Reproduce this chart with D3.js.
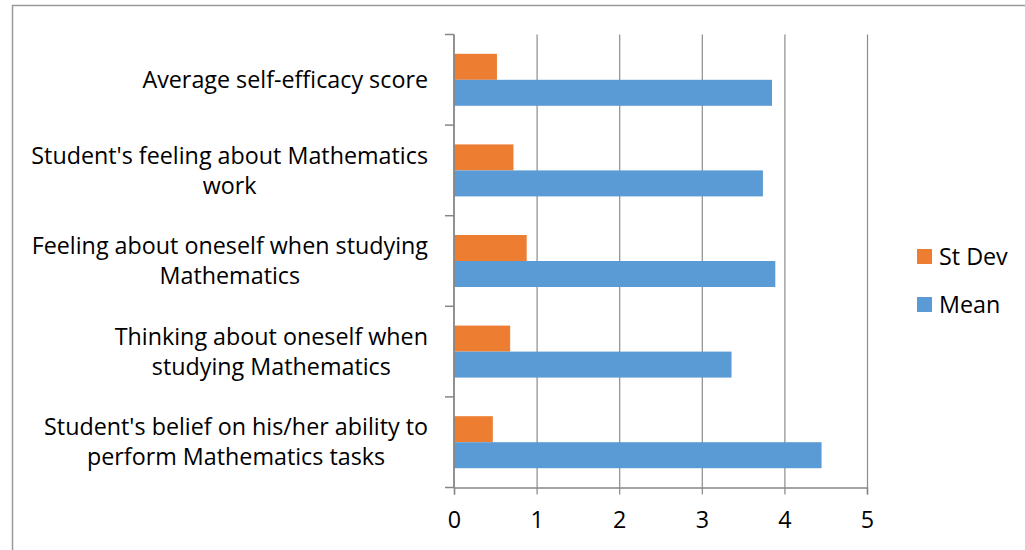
<!DOCTYPE html>
<html>
<head>
    <title>Self-efficacy chart</title>
    <script src="https://d3js.org/d3.v7.min.js"></script>
    <style>
        body { margin: 0; background: #fff; }
        #chart { display: block; }
        text { font-family: "Open Sans", Lato, sans-serif; fill: #000; }
    </style>
</head>
<body>
    <svg id="chart"></svg>
    <script>
        // categories, top to bottom (each label split into its lines)
        const categories = [
            ["Average self-efficacy score"],
            ["Student's feeling about Mathematics", "work"],
            ["Feeling about oneself when studying", "Mathematics"],
            ["Thinking about oneself when", "studying Mathematics"],
            ["Student's belief on his/her ability to", "perform Mathematics tasks"]
        ];
        const seriesNames = ["St Dev", "Mean"];
        const stDev = [0.52, 0.72, 0.88, 0.68, 0.47];
        const mean = [3.85, 3.74, 3.89, 3.36, 4.45];
        const xTicks = [0, 1, 2, 3, 4, 5];

        const width = 1025;
        const height = 550;
        const fontSize = 23.3;
        const colors = { "St Dev": "#ED7D31", "Mean": "#5B9BD5" };

        const svg = d3.select("#chart")
            .attr("width", width)
            .attr("height", height);

        // outer frame (right and bottom edges fall off the picture)
        svg.append("rect")
            .attr("x", 12.5).attr("y", 5.5)
            .attr("width", 1040).attr("height", 560)
            .attr("fill", "none")
            .attr("stroke", "#9a9a9a")
            .attr("stroke-width", 1.5);

        const x = d3.scaleLinear().domain([0, 5]).range([454, 867]);
        const y = d3.scaleBand()
            .domain(d3.range(categories.length))
            .range([34.5, 487.5])
            .paddingInner(0.426)
            .paddingOuter(0.213);
        const sub = d3.scaleBand().domain(seriesNames).range([0, y.bandwidth()]);

        const step = y.step();
        const plotTop = y.range()[0];
        const plotBottom = y.range()[1];

        // vertical gridlines
        svg.append("g")
            .selectAll("line")
            .data(xTicks.slice(1))
            .join("line")
            .attr("x1", d => x(d) + 0.5).attr("x2", d => x(d) + 0.5)
            .attr("y1", plotTop).attr("y2", plotBottom)
            .attr("stroke", "#8c8c8c")
            .attr("stroke-width", 1.2);

        // bars
        const rows = categories.map((c, i) => ({ i, values: { "St Dev": stDev[i], "Mean": mean[i] } }));
        const group = svg.append("g")
            .selectAll("g")
            .data(rows)
            .join("g")
            .attr("transform", d => `translate(0,${y(d.i)})`);

        group.selectAll("rect")
            .data(d => seriesNames.map(s => ({ s, v: d.values[s] })))
            .join("rect")
            .attr("x", x(0))
            .attr("y", d => sub(d.s))
            .attr("width", d => x(d.v) - x(0))
            .attr("height", sub.bandwidth())
            .attr("fill", d => colors[d.s]);

        // x axis
        const xAxis = svg.append("g")
            .attr("transform", `translate(0,${plotBottom})`)
            .call(d3.axisBottom(x).tickValues(xTicks).tickSize(7).tickPadding(17).tickFormat(d3.format("d")));
        xAxis.select(".domain").attr("stroke", "#868686").attr("stroke-width", 1.5);
        xAxis.selectAll(".tick line").attr("stroke", "#868686").attr("stroke-width", 1.2);
        xAxis.selectAll("text")
            .style("font-family", "'Open Sans', sans-serif")
            .style("font-size", fontSize + "px")
            .attr("fill", "#000");

        // y axis line and category boundary ticks
        const yg = svg.append("g");
        yg.append("line")
            .attr("x1", x(0)).attr("x2", x(0))
            .attr("y1", plotTop).attr("y2", plotBottom)
            .attr("stroke", "#868686").attr("stroke-width", 1.8);
        yg.selectAll(".bt")
            .data(d3.range(categories.length + 1))
            .join("line")
            .attr("class", "bt")
            .attr("x1", x(0) - 9).attr("x2", x(0))
            .attr("y1", d => plotTop + d * step).attr("y2", d => plotTop + d * step)
            .attr("stroke", "#868686").attr("stroke-width", 1.5);

        // category labels: block right-aligned, lines centred on each other
        const lineH = 30;
        const labels = svg.append("g")
            .selectAll("text")
            .data(categories)
            .join("text")
            .attr("font-size", fontSize)
            .attr("text-anchor", "middle");
        labels.each(function (lines, i) {
            const t = d3.select(this);
            const cy = y(i) + y.bandwidth() / 2;
            const y0 = cy - (lines.length - 1) * lineH / 2;
            lines.forEach((ln, k) => {
                t.append("tspan").attr("y", y0 + k * lineH).attr("dy", "0.35em").text(ln);
            });
            let w = 0;
            t.selectAll("tspan").each(function () { w = Math.max(w, this.getComputedTextLength()); });
            t.selectAll("tspan").attr("x", 428 - w / 2);
        });

        // legend
        const legend = svg.append("g")
            .selectAll("g")
            .data(seriesNames)
            .join("g")
            .attr("transform", (d, i) => `translate(917,${249 + i * 48})`);
        legend.append("rect")
            .attr("width", 15).attr("height", 15)
            .attr("fill", d => colors[d]);
        legend.append("text")
            .attr("x", 22).attr("y", 7.5)
            .attr("dy", "0.35em")
            .attr("font-size", fontSize)
            .text(d => d);
    </script>
</body>
</html>
